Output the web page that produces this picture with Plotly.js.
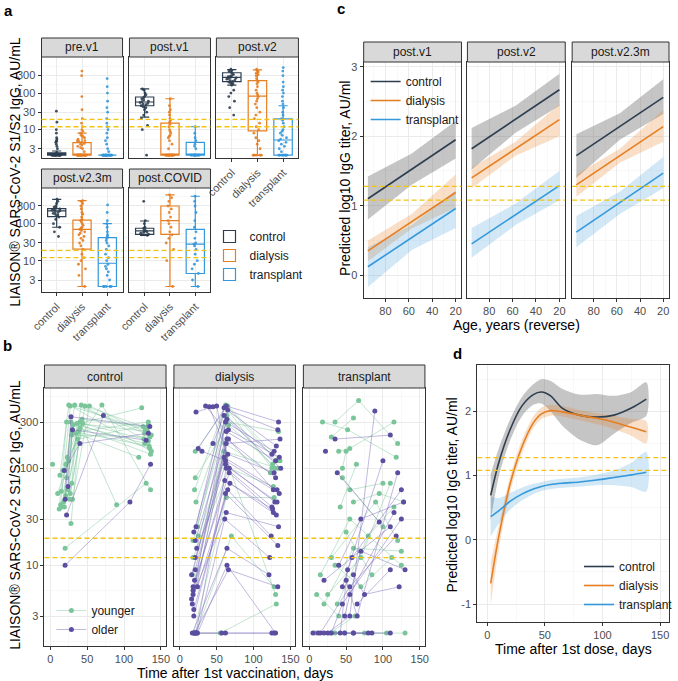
<!DOCTYPE html>
<html><head><meta charset="utf-8">
<script src="https://cdn.plot.ly/plotly-3.0.1.min.js"></script>
<style>html,body{margin:0;padding:0;background:#fff}</style>
</head><body><div id="chart" style="width:678px;height:681px"></div>
<script>
// ================= DATA =================
const groups = ['control','dialysis','transplant'];
const visitsA = ['pre.v1','post.v1','post.v2','post.v2.3m','post.COVID'];
const visitsC = ['post.v1','post.v2','post.v2.3m'];
const cohortsB = ['control','dialysis','transplant'];
const ageLabels = ['younger','older'];
const thresholds = [12, 19];

// Panel a: box statistics (AU/mL), per visit, ordered control, dialysis, transplant
const boxQ1     = [[2,2,2],[45,2,2],[205,9.3,2],[154,20.6,2],[51,51,4.5]];
const boxMedian = [[2,2,2],[57,2,2],[270,83,5.2],[220,70,8.5],[64,120,28]];
const boxQ3     = [[2.3,4.4,2],[78,15,4.5],[360,219,19.6],[254,125,42],[75,300,70]];
const boxLow    = [[2,2,2],[22,2,2],[165,2,2],[80,2,2],[48,2,2]];
const boxHigh   = [[2.6,8,2],[130,70,12],[440,430,45],[455,420,100],[118,600,550]];

// Panel a: individual values
const ptsPreV1Control = [2,2,2,2,2,2,2,2,2,2,2,2,2,2,2,2,2,2,2.2,2.4,3,3.5,4,4.5,4.8,5,5.5,6,8,10,16,32];
const ptsPreV1Dialysis = [2,2,2,2,2,2,2,2,2,2,2,2,2,2,2,2,2,2,2,2,2.5,3,3.2,3.5,3.8,4,4.2,4.5,4.8,5,5,5.5,6,6.5,7,8,9,10,12,15,20,35,80,300,400];
const ptsPreV1Transplant = [2,2,2,2,2,2,2,2,2,2,2,2,2,2,2,2,2,2,2,2,2.5,3,4,5,6,8,10,12,15,20,30,40,60,100,150,250];
const ptsPostV1Control = [2,10,13,20,25,30,35,40,42,45,48,50,52,55,58,60,65,70,75,80,90,100,120,130];
const ptsPostV1Dialysis = [2,2,2,2,2,2,2,2,2,2,2,2,2,2,3,4,5,6,6.5,7,8,9,10,12,14,16,18,20,25,30,35,45,70];
const ptsPostV1Transplant = [2,2,2,2,2,2,2,2,2,2,2,2,3,3.5,4,5,6,8,12];
const ptsPostV2Control = [25,40,60,80,100,120,165,180,190,200,210,220,230,240,250,260,270,280,290,300,320,350,380,400,420,450];
const ptsPostV2Dialysis = [2,2,2,2,2,3,4,5,6,8,10,12,15,20,25,30,40,50,60,70,80,90,100,120,150,180,200,220,250,300,320,350,380,400,420,450];
const ptsPostV2Transplant = [2,2,2,2,2,2,2,2,2.5,3,3.5,4,4.5,5,5.5,6,7,8,9,10,12,15,18,20,25,30,40,50,60,80,100,120,150,200,300,400,500];
const ptsPostV23mControl = [45,60,80,100,130,150,160,170,180,190,200,210,220,230,240,250,260,280,300,350,400,460];
const ptsPostV23mDialysis = [2,4,6,8,10,12,15,20,25,30,35,40,45,50,55,60,65,70,75,80,90,100,110,120,130,150,180,200,250,300,350,400,420];
const ptsPostV23mTransplant = [2,2,2,2,2,3,4,5,6,7,8,10,12,15,20,25,30,35,40,45,50,60,80,100,120,200,320];
const ptsPostCovidControl = [48,50,52,55,58,60,62,65,70,75,80,100,120,400];
const ptsPostCovidDialysis = [2,10,20,30,40,50,60,80,100,120,150,200,250,300,400,500,600];
const ptsPostCovidTransplant = [2,3,4.5,6,8,10,15,20,25,28,30,40,60,80,120,200,300,400,550];

// Panel b: subjects as [day, AU/mL, day, AU/mL, ...]
const bCtrlYoung = [
 [21,110,33,450,128,230],[24,60,42,450,133,190],[18,45,28,300,135,160],[26,48,47,440,131,260],
 [15,58,31,280,124,420],[28,27,40,260,136,140],[20,15,130,70],[3,110],[10,55,38,240,133,300],
 [14,42,27,440,129,250],[30,48,53,440,137,220],[22,80,40,300,90,42],[17,95,35,230,120,130],
 [23,130,70,450,136,60],[27,55,44,290,127,200],[19,40,30,240,134,170],[25,120,37,200,133,280],
 [13,85,25,450,137,150],[21,52,43,320,126,270],[16,40,29,220,135,210],[29,70,36,290,132,240],
 [12,38,22,300,128,180]];
const bCtrlOld = [
 [20,10,108,45,136,110],[22,33,72,350],[20,48,28,340,135,270],[19,95,40,180,133,230],[24,65,30,250,130,195]];
const bDialYoung = [
 [20,60,62,450,131,120],[22,45,64,350,129,100],[18,18,63,300,134,240],[21,80,66,280,126,110],
 [23,6,60,150,133,100],[19,2,63,50,128,50],[24,25,65,440,136,120],[17,8,61,180,123,90],
 [22,2,70,20,128,6],[20,2,55,2,131,4],[25,20,62,130,130,5],[18,12,67,100,127,65],[21,150,63,420,125,100]];
const bDialOld = [
 [18,5,62,300,128,150],[20,7,64,200,130,80],[22,2,63,100,125,40],[17,4,60,130,132,60],
 [19,22,65,400,133,250],[21,18,66,250,135,130],[23,2,61,30,122,12],[18,6,67,90,127,35],
 [24,2,64,10,130,2],[20,2,62,2,128,2],[16,8,63,180,136,200],[22,25,60,420,131,170],
 [19,3.5,65,60,124,20],[21,12,62,110,129,45],[25,160,63,440,134,300],[20,2,66,9,133,6],
 [18,5.5,61,75,126,38],[23,15,64,320,137,100],[22,380,45,430],[35,440,63,240,130,120],
 [40,430,65,140,128,90],[30,150,62,120,135,55],[45,180,60,350,125,140],[50,440,67,100,132,45],
 [17,2,64,15,121,8],[24,6,68,70,131,33],[20,2,57,2,125,2],[16,4.5,63,35,134,25],
 [21,9,66,200,127,60],[19,3,62,55,133,16]];
const bTxYoung = [
 [35,300,67,500,120,180],[40,150,55,160,115,300],[30,210,60,330],[45,100,50,150],
 [25,5,70,12,110,70],[15,8,55,30,125,10],[38,4,80,20,115,40],[10,5,40,3],[8,2,35,2,105,2],
 [48,2,75,2,130,2],[30,12,90,45,120,18],[55,60,100,70],[20,4,60,15,125,14],[50,22,85,8],
 [28,2,62,3],[45,80,100,25],[35,10,70,6,112,12],[60,45,95,55,128,45],[18,300,52,250,118,130],[42,40,64,110]];
const bTxOld = [
 [25,2,55,3,89,390],[20,2,60,2,80,2],[30,2,45,4,125,30],[35,200,110,220],[22,150],[38,90,95,28],
 [50,7,65,3,120,90],[45,6,58,12,125,60],[40,10,70,30,128,45],[5,2,60,2,110,2],[15,2,55,6,118,20],
 [55,5,115,35],[60,8,75,5,122,6],[42,2,52,9,100,120],[12,2,48,2,85,2],[65,4,110,9],[20,7,110,25],[48,3,70,14,130,9]];

// Panel c: age grid (years) and predicted log10 titer, per visit, ordered control, dialysis, transplant
const agesC = [95, 57.5, 20];
const fitC = [
 [[1.10,1.525,1.95],[0.35,0.77,1.19],[0.12,0.54,0.96]],
 [[1.82,2.245,2.67],[1.40,1.82,2.24],[0.45,0.87,1.29]],
 [[1.72,2.14,2.56],[1.30,1.72,2.14],[0.62,1.045,1.47]]];
const loC = [
 [[0.80,1.30,1.68],[0.20,0.67,0.97],[-0.17,0.36,0.68]],
 [[1.52,2.05,2.44],[1.25,1.72,2.00],[0.25,0.72,1.08]],
 [[1.40,1.95,2.32],[1.13,1.62,1.92],[0.40,0.88,1.25]]];
const hiC = [
 [[1.42,1.75,2.22],[0.50,0.88,1.45],[0.40,0.72,1.22]],
 [[2.12,2.44,2.90],[1.55,1.92,2.46],[0.68,1.03,1.50]],
 [[2.03,2.33,2.82],[1.45,1.82,2.38],[0.85,1.20,1.70]]];

// Panel d: days after 1st dose and predicted log10 titer
const daysD = [3,10,20,30,40,47,55,65,80,95,110,125,138];
const dControl   = [0.69,1.20,1.72,2.08,2.26,2.30,2.24,2.05,1.94,1.91,1.94,2.05,2.19];
const dControlLo = [0.30,0.98,1.55,1.92,2.10,2.12,2.00,1.78,1.56,1.47,1.65,1.82,1.93];
const dControlHi = [1.02,1.42,1.88,2.22,2.42,2.50,2.47,2.35,2.26,2.27,2.24,2.30,2.45];
const dDialysis   = [-0.68,0.05,0.88,1.44,1.82,1.96,2.01,1.99,1.94,1.89,1.83,1.75,1.68];
const dDialysisLo = [-1.02,-0.15,0.75,1.33,1.74,1.88,1.93,1.92,1.86,1.80,1.72,1.62,1.50];
const dDialysisHi = [-0.35,0.22,1.00,1.55,1.92,2.06,2.10,2.08,2.02,1.97,1.93,1.88,1.85];
const dTransplant   = [0.36,0.45,0.60,0.71,0.79,0.83,0.86,0.88,0.90,0.93,0.97,1.01,1.05];
const dTransplantLo = [0.05,0.25,0.47,0.61,0.71,0.76,0.79,0.81,0.83,0.85,0.85,0.82,0.75];
const dTransplantHi = [0.67,0.65,0.73,0.81,0.87,0.90,0.93,0.95,0.97,1.01,1.08,1.20,1.37];

// ================= STYLE / LAYOUT =================
const W = 678, H = 681;
const px = v => v / W, py = v => 1 - v / H;
const FONT = '"Liberation Sans", Arial, Helvetica, sans-serif';
const COL = {control:'#2C3E50', dialysis:'#E67E22', transplant:'#3498DB'};
const BAND = {control:'rgba(110,110,110,0.40)', dialysis:'rgba(230,126,34,0.25)', transplant:'rgba(52,152,219,0.22)'};
const AGECOL = {younger:'#7BC59A', older:'#5B4D9F'};
const AGELINE = {younger:'rgba(123,197,154,0.45)', older:'rgba(120,100,185,0.45)'};
const GOLD = '#F1C40F';
const sfx = n => n === 1 ? '' : String(n);

const layout = {
  width: W, height: H, margin: {l:0, r:0, t:0, b:0},
  paper_bgcolor: '#fff', plot_bgcolor: '#fff', boxmode: 'overlay',
  font: {family: FONT, size: 11, color: '#1A1A1A'},
  shapes: [], annotations: [], showlegend: true
};
const traces = [];

function baseAx(extra) {
  return Object.assign({
    showline: true, mirror: true, linecolor: '#333333', linewidth: 1,
    showgrid: true, gridcolor: '#EBEBEB', gridwidth: 1, zeroline: false,
    ticks: 'outside', ticklen: 3, tickcolor: '#333333', automargin: false,
    tickfont: {family: FONT, size: 11, color: '#4D4D4D'}, fixedrange: true
  }, extra);
}
function setAxes(n, box, xo, yo) {
  const [x0, x1, y0, y1] = box;
  layout['xaxis' + sfx(n)] = baseAx(Object.assign({domain: [px(x0), px(x1)], anchor: 'y' + sfx(n)}, xo));
  layout['yaxis' + sfx(n)] = baseAx(Object.assign({domain: [py(y1), py(y0)], anchor: 'x' + sfx(n)}, yo));
}
function strip(x0, x1, y0, y1, text) {
  layout.shapes.push({type:'rect', xref:'paper', yref:'paper', x0:px(x0), x1:px(x1), y0:py(y1), y1:py(y0),
    fillcolor:'#D9D9D9', line:{color:'#333333', width:1}, layer:'above'});
  layout.annotations.push({xref:'paper', yref:'paper', x:px((x0+x1)/2), y:py((y0+y1)/2), text:text,
    showarrow:false, xanchor:'center', yanchor:'middle', font:{family:FONT, size:12, color:'#1A1A1A'}});
}
function hlines(n, vals, logRange) {
  vals.forEach(v => {
    const shp = {type:'line', xref:'x' + sfx(n) + ' domain', x0:0, x1:1,
      line:{color:GOLD, width:1.3, dash:'5px,3px'}, layer:'above'};
    if (logRange) {
      const f = (Math.log10(v) - logRange[0]) / (logRange[1] - logRange[0]);
      shp.yref = 'y' + sfx(n) + ' domain'; shp.y0 = f; shp.y1 = f;
    } else {
      shp.yref = 'y' + sfx(n); shp.y0 = Math.log10(v); shp.y1 = Math.log10(v);
    }
    layout.shapes.push(shp);
  });
}
function note(x, y, text, size, extra) {
  layout.annotations.push(Object.assign({xref:'paper', yref:'paper', x:px(x), y:py(y), text:text, showarrow:false,
    xanchor:'center', yanchor:'middle', font:{family:FONT, size:size, color:'#000'}}, extra || {}));
}

const logTicks = [3, 10, 30, 100, 300];
const logMinor = [1.64, 5.48, 17.3, 54.8, 173, 548];
const minorLog = {tickmode:'array', tickvals: logMinor, showgrid:true, gridcolor:'#F3F3F3', gridwidth:0.6, ticks:''};

// ---------- Panel a ----------
const aBoxes = [[42,124,57,158],[131,213,57,158],[219,302,57,158],[42,124,188,292],[131,213,188,292]];
const aRanges = [[0.224,2.987],[0.224,2.987],[0.224,2.987],[0.153,2.963],[0.153,2.963]];
const aPts = [
  [ptsPreV1Control, ptsPreV1Dialysis, ptsPreV1Transplant],
  [ptsPostV1Control, ptsPostV1Dialysis, ptsPostV1Transplant],
  [ptsPostV2Control, ptsPostV2Dialysis, ptsPostV2Transplant],
  [ptsPostV23mControl, ptsPostV23mDialysis, ptsPostV23mTransplant],
  [ptsPostCovidControl, ptsPostCovidDialysis, ptsPostCovidTransplant]];
visitsA.forEach((v, i) => {
  const n = i + 1;
  const showX = (i >= 2);
  const showY = (i === 0 || i === 3);
  setAxes(n, aBoxes[i],
    {type:'category', categoryorder:'array', categoryarray: groups, range:[-0.6, 2.6],
     showticklabels: showX, ticks: showX ? 'outside' : '', tickangle: -45},
    {type:'log', range: aRanges[i], tickvals: logTicks, ticktext: logTicks.map(String),
     showticklabels: showY, ticks: showY ? 'outside' : '', minor: minorLog});
  strip(aBoxes[i][0], aBoxes[i][1], aBoxes[i][2] - 19, aBoxes[i][2], v);
  hlines(n, thresholds, aRanges[i]);
  groups.forEach((g, k) => {
    traces.push({type:'box', xaxis:'x'+sfx(n), yaxis:'y'+sfx(n), x:[g], name:g,
      q1:[boxQ1[i][k]], median:[boxMedian[i][k]], q3:[boxQ3[i][k]],
      lowerfence:[boxLow[i][k]], upperfence:[boxHigh[i][k]], width:0.72,
      line:{color:COL[g], width:1.2}, fillcolor:'rgba(255,255,255,0)', boxpoints:false,
      legend:'legend', showlegend: i === 0, legendgroup:g, hoverinfo:'skip'});
    const pts = aPts[i][k];
    traces.push({type:'box', xaxis:'x'+sfx(n), yaxis:'y'+sfx(n), x: pts.map(() => g), y: pts, name:g,
      boxpoints:'all', jitter:0.55, pointpos:0, width:0.72,
      marker:{color:COL[g], size:2.8, opacity:0.9}, line:{width:0, color:'rgba(0,0,0,0)'},
      fillcolor:'rgba(0,0,0,0)', showlegend:false, hoverinfo:'skip'});
  });
});

// ---------- Panel b ----------
const bBoxes = [[45,168,388,646],[176,299,388,646],[307,430,388,646]];
const bRange = [0.168, 2.828];
const bData = [[bCtrlYoung, bCtrlOld],[bDialYoung, bDialOld],[bTxYoung, bTxOld]];
function flat(subjects) {
  const x = [], y = [];
  subjects.forEach(s => { for (let i = 0; i < s.length; i += 2) { x.push(s[i]); y.push(s[i+1]); } x.push(null); y.push(null); });
  return {x, y};
}
cohortsB.forEach((c, i) => {
  const n = 6 + i;
  setAxes(n, bBoxes[i],
    {range:[-8, 157], tickvals:[0,50,100,150],
     minor:{tickmode:'array', tickvals:[25,75,125], showgrid:true, gridcolor:'#F3F3F3', gridwidth:0.6, ticks:''}},
    {type:'log', range: bRange, tickvals: logTicks, ticktext: logTicks.map(String),
     showticklabels: i === 0, ticks: i === 0 ? 'outside' : '', minor: minorLog});
  strip(bBoxes[i][0], bBoxes[i][1], 365, 388, c);
  hlines(n, thresholds, bRange);
  ageLabels.forEach((a, k) => {
    const f = flat(bData[i][k]);
    traces.push({type:'scatter', mode:'lines+markers', xaxis:'x'+sfx(n), yaxis:'y'+sfx(n), x:f.x, y:f.y,
      connectgaps:false, name:a, line:{color:AGELINE[a], width:1},
      marker:{color:AGECOL[a], size:5}, legend:'legend2', showlegend: i === 0, legendgroup:'b'+a, hoverinfo:'skip'});
  });
});

// ---------- Panel c ----------
const cBoxes = [[368,467,62,298],[473,572,62,298],[579,677,62,298]];
visitsC.forEach((v, i) => {
  const n = 9 + i;
  setAxes(n, cBoxes[i],
    {range:[98.6, 15], tickvals:[80,60,40,20],
     minor:{tickmode:'array', tickvals:[90,70,50,30], showgrid:true, gridcolor:'#F3F3F3', gridwidth:0.6, ticks:''}},
    {range:[-0.33, 3.07], tickvals:[0,1,2,3], ticktext:['0','1','2','3'],
     showticklabels: i === 0, ticks: i === 0 ? 'outside' : '',
     minor:{tickmode:'array', tickvals:[0.5,1.5,2.5], showgrid:true, gridcolor:'#F3F3F3', gridwidth:0.6, ticks:''}});
  strip(cBoxes[i][0], cBoxes[i][1], 42, 62, v);
  groups.forEach((g, k) => {
    traces.push({type:'scatter', mode:'lines', xaxis:'x'+sfx(n), yaxis:'y'+sfx(n),
      x: agesC.concat(agesC.slice().reverse()), y: loC[i][k].concat(hiC[i][k].slice().reverse()),
      fill:'toself', fillcolor:BAND[g], line:{width:0, color:'rgba(0,0,0,0)'}, showlegend:false, hoverinfo:'skip'});
  });
  groups.forEach((g, k) => {
    traces.push({type:'scatter', mode:'lines', xaxis:'x'+sfx(n), yaxis:'y'+sfx(n), x: agesC, y: fitC[i][k],
      name:g, line:{color:COL[g], width:1.6}, legend:'legend3', showlegend: i === 0, legendgroup:'c'+g, hoverinfo:'skip'});
  });
  hlines(n, thresholds, null);
});

// ---------- Panel d ----------
setAxes(12, [483,677,365,622],
  {range:[-8.6, 157.7], tickvals:[0,50,100,150],
   minor:{tickmode:'array', tickvals:[25,75,125], showgrid:true, gridcolor:'#F3F3F3', gridwidth:0.6, ticks:''}},
  {range:[-1.28, 2.72], tickvals:[-1,0,1,2], ticktext:['-1','0','1','2'],
   minor:{tickmode:'array', tickvals:[-0.5,0.5,1.5,2.5], showgrid:true, gridcolor:'#F3F3F3', gridwidth:0.6, ticks:''}});
const dFit = {control:[dControl,dControlLo,dControlHi], dialysis:[dDialysis,dDialysisLo,dDialysisHi], transplant:[dTransplant,dTransplantLo,dTransplantHi]};
groups.forEach(g => {
  traces.push({type:'scatter', mode:'lines', xaxis:'x12', yaxis:'y12',
    x: daysD.concat(daysD.slice().reverse()), y: dFit[g][1].concat(dFit[g][2].slice().reverse()),
    fill:'toself', fillcolor:BAND[g], line:{width:0, color:'rgba(0,0,0,0)', shape:'spline', smoothing:0.8},
    showlegend:false, hoverinfo:'skip'});
});
groups.forEach(g => {
  traces.push({type:'scatter', mode:'lines', xaxis:'x12', yaxis:'y12', x: daysD, y: dFit[g][0],
    name:g, line:{color:COL[g], width:1.6, shape:'spline', smoothing:0.8}, legend:'legend4', legendgroup:'d'+g, hoverinfo:'skip'});
});
hlines(12, thresholds, null);

// ---------- Legends ----------
function leg(x, y) {
  return {x:px(x), y:py(y), xanchor:'left', yanchor:'top', bgcolor:'rgba(0,0,0,0)', borderwidth:0,
    font:{family:FONT, size:12, color:'#1A1A1A'}, traceorder:'normal', tracegroupgap:0, itemclick:false};
}
layout.legend = leg(212, 222);
layout.legend2 = leg(52, 596);
layout.legend3 = leg(370, 67);
layout.legend4 = leg(586, 552);

// ---------- Titles & panel labels ----------
note(9, 10, '<b>a</b>', 15);
note(8, 346, '<b>b</b>', 15);
note(345, 9, '<b>c</b>', 15);
note(463, 353, '<b>d</b>', 15);
note(15, 172, 'LIAISON® SARS-CoV-2 S1/S2 IgG, AU/mL', 14, {textangle:-90});
note(15, 515, 'LIAISON® SARS-CoV-2 S1/S2 IgG, AU/mL', 14, {textangle:-90});
note(349, 178, 'Predicted log10 IgG titer, AU/ml', 14, {textangle:-90});
note(457, 495, 'Predicted log10 IgG titer, AU/ml', 14, {textangle:-90});
note(238, 673, 'Time after 1st vaccination, days', 14);
note(523, 325, 'Age, years (reverse)', 14);
note(580, 649, 'Time after 1st dose, days', 14);

Plotly.newPlot('chart', traces, layout, {staticPlot:true, displayModeBar:false});
</script></body></html>
